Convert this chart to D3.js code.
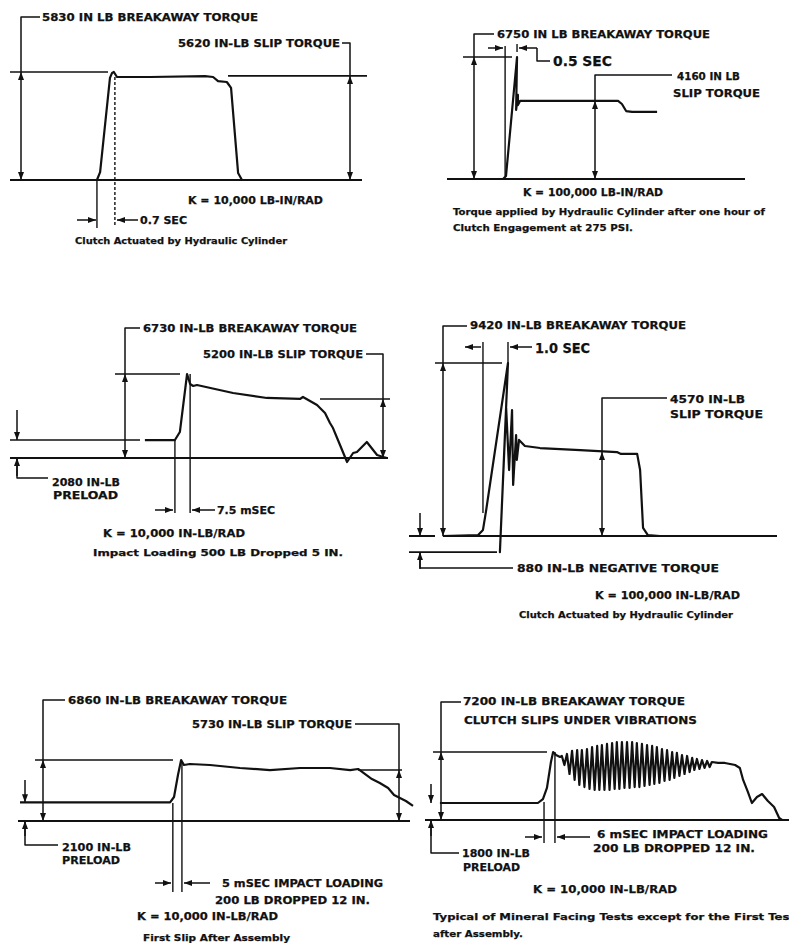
<!DOCTYPE html>
<html>
<head>
<meta charset="utf-8">
<script src="https://cdn.jsdelivr.net/npm/d3@7"></script>
<style>
  body { margin: 0; background: #fff; }
  svg text { font-family: 'DejaVu Sans', sans-serif; fill: #111; }
</style>
</head>
<body>
<div id="renderer"></div>
<script>
// torque records, time as % of the sweep shown, torque in in-lb as drawn
var p1Time   = [0, 24.7, 25.6, 28.4, 29.0, 29.5, 30.4, 39.8, 55.4, 57.7, 59.1, 61.6, 62.8, 64.8, 65.9, 100];
var p1Torque = [0, 0, 430, 5510, 5780, 5830, 5560, 5560, 5610, 5560, 5340, 5290, 4970, 380, 0, 0];
var p1Levels = [5830, 5620];
var p1Marks  = [24.7, 29.8];
var p1Labels = ['5830 IN LB BREAKAWAY TORQUE', '5620 IN-LB SLIP TORQUE', 'K = 10,000 LB-IN/RAD',
  '0.7 SEC', 'Clutch Actuated by Hydraulic Cylinder'];

var p2Time   = [9.1, 18.8, 19.8, 23.5, 23.2, 23.8, 23.8, 24.5, 57.4, 58.7, 60.1, 62.1, 70.5];
var p2Torque = [0, 0, 170, 6750, 3820, 4650, 4090, 4320, 4320, 4150, 3760, 3710, 3710];
var p2Levels = [6750, 4320];
var p2Marks  = [19.5, 23.5];
var p2Labels = ['6750 IN LB BREAKAWAY TORQUE', '0.5 SEC', '4160 IN LB', 'SLIP TORQUE',
  'K = 100,000 LB-IN/RAD', 'Torque applied by Hydraulic Cylinder after one hour of',
  'Clutch Engagement at 275 PSI.'];

var p3Time   = [35.5, 43.4, 44.7, 46.6, 47.4, 48.2, 49.2, 58.7, 67.6, 76.3, 77.1, 80.8, 82.9,
  84.2, 85.0, 86.3, 88.7, 90.3, 91.3, 93.9, 96.6, 98.2, 99.2];
var p3Torque = [1440, 1440, 2080, 6730, 5930, 5770, 5850, 5210, 4810, 4730, 4890, 4250, 3610,
  2800, 2400, 1440, -320, 400, 480, 1280, 240, 80, 0];
var p3Levels = [6730, 4730, 1440];
var p3Marks  = [43.4, 47.4];
var p3Labels = ['6730 IN-LB BREAKAWAY TORQUE', '5200 IN-LB SLIP TORQUE', '2080 IN-LB', 'PRELOAD',
  '7.5 mSEC', 'K = 10,000 IN-LB/RAD', 'Impact Loading 500 LB Dropped 5 IN.'];

var p4Time   = [9.2, 18.8, 20.1, 20.9, 26.9, 24.7, 26.4, 27.2, 28.0, 28.3, 29.1, 29.3, 29.9,
  31.5, 35.6, 46.5, 56.5, 57.6, 62.0, 62.8, 63.6, 64.9, 68.2];
var p4Torque = [0, 50, 330, 1310, 9420, -880, 6970, 3590, 6860, 2780, 5500, 4140, 5230,
  4900, 4790, 4680, 4570, 4470, 4470, 3590, 440, 50, 0];
var p4Levels = [9420, 4570, -880];
var p4Marks  = [20.1, 26.9];
var p4Labels = ['9420 IN-LB BREAKAWAY TORQUE', '1.0 SEC', '4570 IN-LB', 'SLIP TORQUE',
  '880 IN-LB NEGATIVE TORQUE', 'K = 100,000 IN-LB/RAD', 'Clutch Actuated by Hydraulic Cylinder'];

var p5Time   = [0.5, 38.5, 39.5, 40.5, 41.3, 42.0, 43.5, 48.6, 56.2, 63.8, 71.4, 79.0, 84.1,
  86.1, 87.8, 89.6, 91.6, 93.7, 95.2, 96.7, 98.2, 100];
var p5Torque = [2100, 2100, 2700, 5170, 6860, 6300, 6410, 6300, 5960, 5730, 5960, 5960, 5730,
  5850, 5290, 4720, 4270, 3710, 2920, 2590, 2250, 1690];
var p5Levels = [6860, 5730, 2100];
var p5Marks  = [39.2, 41.5];
var p5Labels = ['6860 IN-LB BREAKAWAY TORQUE', '5730 IN-LB SLIP TORQUE', '2100 IN-LB', 'PRELOAD',
  '5 mSEC IMPACT LOADING', '200 LB DROPPED 12 IN.', 'K = 10,000 IN-LB/RAD',
  'First Slip After Assembly'];

var p6Time   = [4.1, 31.0, 32.4, 33.5, 34.6, 35.2, 36.0, 37.1];
var p6Torque = [1800, 1800, 2220, 3390, 6140, 7200, 6880, 6670];
// vibration while slipping: crest and trough of each swing
var p6PeakTime   = [37.6, 39.0, 40.4, 41.8, 43.1, 44.5, 45.9, 47.3, 48.6, 50.0, 51.4, 52.7, 54.1,
  55.5, 56.9, 58.2, 59.6, 61.0, 62.4, 63.7, 65.1, 66.5, 67.9, 69.2, 70.6, 72.0, 73.4, 74.7,
  76.1, 77.5, 78.8];
var p6PeakTorque = [6780, 6990, 7310, 7410, 7410, 7520, 7730, 7840, 7940, 8050, 8150, 8260, 8260,
  8260, 8260, 8150, 8050, 7940, 7840, 7730, 7520, 7410, 7200, 7100, 6880, 6780, 6570, 6460,
  6350, 6250, 6140];
var p6DipTime    = [38.3, 39.7, 41.1, 42.4, 43.8, 45.2, 46.6, 47.9, 49.3, 50.7, 52.1, 53.4, 54.8,
  56.2, 57.6, 58.9, 60.3, 61.7, 63.0, 64.4, 65.8, 67.2, 68.5, 69.9, 71.3, 72.7, 74.0, 75.4,
  76.8, 78.2];
var p6DipTorque  = [5820, 4870, 4240, 3710, 3490, 3280, 3180, 3180, 3180, 3180, 3280, 3280, 3390,
  3390, 3490, 3490, 3600, 3710, 3810, 3920, 4130, 4240, 4450, 4660, 4870, 5080, 5300, 5400,
  5510, 5610];
var p6TailTime   = [80.5, 82.4, 85.2, 86.5, 87.4, 88.7, 89.8, 91.2, 92.6, 94.2, 95.9, 97.3, 98.1];
var p6TailTorque = [6040, 6040, 5820, 5510, 4240, 2970, 1800, 2440, 2750, 2010, 1380, 210, 0];
var p6Levels = [7200, 1800];
var p6Marks  = [32.7, 35.7];
var p6Labels = ['7200 IN-LB BREAKAWAY TORQUE', 'CLUTCH SLIPS UNDER VIBRATIONS', '1800 IN-LB',
  'PRELOAD', '6 mSEC IMPACT LOADING', '200 LB DROPPED 12 IN.', 'K = 10,000 IN-LB/RAD',
  'Typical of Mineral Facing Tests except for the First Test', 'after Assembly.'];

var ink = '#111';
var svg = d3.select('#renderer').append('svg').attr('width', 789).attr('height', 943);

svg.append('defs')
  .append('marker')
  .attr('id', 'head')
  .attr('viewBox', '0 0 8 6')
  .attr('refX', 8)
  .attr('refY', 3)
  .attr('markerWidth', 8)
  .attr('markerHeight', 6)
  .attr('markerUnits', 'userSpaceOnUse')
  .attr('orient', 'auto-start-reverse')
  .append('path')
  .attr('d', 'M0,0L8,3L0,6Z')
  .attr('fill', ink);

function seg(g, pts, w, dash) {
  return g
    .append('path')
    .attr('d', d3.line()(pts))
    .attr('fill', 'none')
    .attr('stroke', ink)
    .attr('stroke-width', w)
    .attr('stroke-linejoin', 'round')
    .attr('stroke-dasharray', dash || null);
}

function arrow(g, pts, both) {
  seg(g, pts, 1.5)
    .attr('marker-end', 'url(#head)')
    .attr('marker-start', both ? 'url(#head)' : null);
}

function panel(o) {
  var sx = d3.scaleLinear().domain([0, 100]).range(o.xr);
  var sy = d3.scaleLinear().domain([0, o.levels[0]]).range(o.yr);
  var lv = function (i) { return i < 0 ? 0 : o.levels[i]; };
  var g = svg.append('g');

  o.zero.forEach(function (r) {
    seg(g, [[r[0], sy(0)], [r[1], sy(0)]], 2);
  });
  o.ref.forEach(function (r) {
    seg(g, [[r[0], sy(lv(r[2]))], [r[1], sy(lv(r[2]))]], 1.6);
  });

  g.append('path')
    .datum(o.trace)
    .attr('fill', 'none')
    .attr('stroke', ink)
    .attr('stroke-width', 2.2)
    .attr('stroke-linejoin', 'round')
    .attr('d', d3.line()
      .x(function (d) { return sx(d[0]); })
      .y(function (d) { return sy(d[1]); }));

  o.dims.forEach(function (d) {
    arrow(g, [[d[0], sy(lv(d[1]))], [d[0], sy(0)]], true);
  });
  o.leaders.forEach(function (l) {
    seg(g, [[l[0], sy(lv(l[1]))], [l[0], l[2]], [l[3], l[2]]], 1.5);
  });
  (o.pointers || []).forEach(function (p) {
    arrow(g, [[p[0], p[1]], [p[0], sy(lv(p[2]))]]);
  });
  o.marks.forEach(function (m, i) {
    seg(g, [[sx(o.times[i]), m[0]], [sx(o.times[i]), m[1]]], 1.4, m[2]);
  });
  o.arrows.forEach(function (a) {
    arrow(g, [[a[0], a[2]], [a[1], a[2]]]);
  });
  (o.extra || []).forEach(function (pts) {
    seg(g, pts, 1.5);
  });

  o.labels.forEach(function (txt, i) {
    var p = o.text[i];
    g.append('text')
      .attr('x', p[0])
      .attr('y', p[1])
      .attr('textLength', p[2])
      .attr('lengthAdjust', 'spacingAndGlyphs')
      .attr('font-size', p[3] || 11)
      .attr('font-weight', 'bold')
      .attr('stroke', ink)
      .attr('stroke-width', 0.25)
      .text(txt);
  });
}

panel({
  trace: d3.zip(p1Time, p1Torque), levels: p1Levels, times: p1Marks, labels: p1Labels,
  xr: [10, 362], yr: [180, 72],
  zero: [[10, 362]],
  ref: [[10, 108, 0], [228, 367, 1]],
  dims: [[21, 0], [350, 1]],
  leaders: [[21, 0, 17, 40], [350, 1, 43, 342]],
  marks: [[180, 228], [77, 227, '3,2']],
  arrows: [[77, 96, 220], [138, 117, 220]],
  text: [[42, 21, 216], [178, 47, 162], [188, 204, 135], [140, 224, 47], [75, 244, 212, 9.5]]
});

panel({
  trace: d3.zip(p2Time, p2Torque), levels: p2Levels, times: p2Marks, labels: p2Labels,
  xr: [447, 745], yr: [179, 57],
  zero: [[447, 745]],
  ref: [[463, 512, 0]],
  dims: [[474, 0], [595, 1]],
  leaders: [[474, 0, 34, 494], [595, 1, 75, 672]],
  marks: [[46, 176], [44, 52]],
  arrows: [[488, 503, 48], [537, 519, 48]],
  extra: [[[537, 48], [537, 61], [550, 61]]],
  text: [[497, 38, 213], [553, 66, 59, 14], [677, 80, 63], [673, 97, 87], [523, 196, 140],
    [453, 215, 312, 9.5], [453, 231, 180, 9.5]]
});

panel({
  trace: d3.zip(p3Time, p3Torque), levels: p3Levels, times: p3Marks, labels: p3Labels,
  xr: [10, 390], yr: [458, 374],
  zero: [[10, 388]],
  ref: [[115, 180, 0], [320, 390, 1], [10, 140, 2]],
  dims: [[125, 0], [383, 1]],
  leaders: [[125, 0, 328, 140], [383, 1, 354, 366], [17, -1, 478, 48]],
  pointers: [[17, 410, 2], [17, 476, -1]],
  marks: [[440, 513], [374, 513]],
  arrows: [[155, 173, 510], [215, 192, 510]],
  text: [[143, 332, 214], [203, 358, 160], [52, 486, 68], [53, 499, 65], [217, 514, 58],
    [103, 537, 142], [93, 556, 250, 9.5]]
});

panel({
  trace: d3.zip(p4Time, p4Torque), levels: p4Levels, times: p4Marks, labels: p4Labels,
  xr: [409, 777], yr: [536, 363],
  zero: [[443, 777], [409, 435]],
  ref: [[435, 502, 0], [409, 497, 2]],
  dims: [[443, 0], [602, 1]],
  leaders: [[443, 0, 326, 467], [602, 1, 398, 667], [420, 2, 568, 513]],
  pointers: [[420, 513, -1], [420, 569, 2]],
  marks: [[342, 513], [342, 363]],
  arrows: [[481, 465, 347], [532, 510, 347]],
  text: [[470, 329, 216], [535, 353, 55, 14], [670, 403, 75], [670, 418, 93], [517, 572, 202],
    [595, 599, 145], [519, 618, 214, 9.5]]
});

panel({
  trace: d3.zip(p5Time, p5Torque), levels: p5Levels, times: p5Marks, labels: p5Labels,
  xr: [18, 413], yr: [821, 760],
  zero: [[18, 410]],
  ref: [[35, 173, 0], [358, 402, 1]],
  dims: [[43, 0], [399, 1]],
  leaders: [[43, 0, 700, 65], [399, 1, 724, 355], [25, -1, 845, 58]],
  pointers: [[25, 780, 2], [25, 836, -1]],
  marks: [[803, 892], [762, 892]],
  arrows: [[155, 171, 883], [210, 184, 883]],
  text: [[68, 704, 219], [192, 728, 160], [62, 851, 69], [62, 864, 58], [222, 887, 161],
    [215, 904, 155], [137, 920, 141], [143, 941, 147, 9]]
});

var p6Vib = [];
p6PeakTime.forEach(function (t, i) {
  p6Vib.push([t, p6PeakTorque[i]]);
  if (i < p6DipTime.length) p6Vib.push([p6DipTime[i], p6DipTorque[i]]);
});

panel({
  trace: d3.zip(p6Time, p6Torque).concat(p6Vib, d3.zip(p6TailTime, p6TailTorque)),
  levels: p6Levels, times: p6Marks, labels: p6Labels,
  xr: [425, 789], yr: [820, 752],
  zero: [[425, 789]],
  ref: [[433, 547, 0]],
  dims: [[441, 0]],
  leaders: [[441, 0, 702, 461], [431, -1, 853, 459]],
  pointers: [[431, 784, 1], [431, 836, -1]],
  marks: [[802, 843], [752, 843]],
  arrows: [[525, 542, 837], [590, 557, 837]],
  text: [[463, 705, 222], [464, 724, 233], [462, 857, 68], [463, 871, 57], [597, 838, 171],
    [593, 852, 162], [533, 893, 144], [433, 920, 362, 9.5], [433, 937, 90, 9.5]]
});
</script>
</body>
</html>
